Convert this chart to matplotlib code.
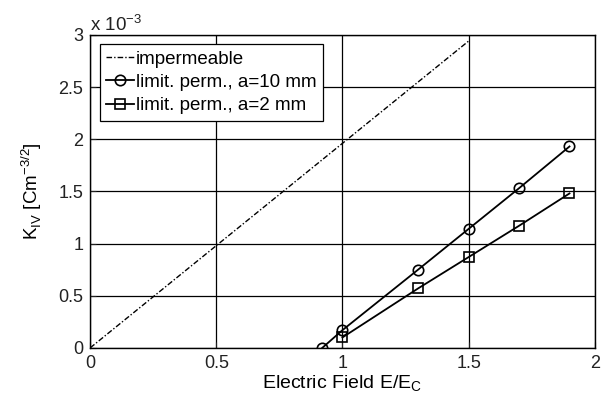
import matplotlib.pyplot as plt
import numpy as np

plt.rcParams["font.family"] = ["Liberation Sans", "DejaVu Sans"]
plt.rcParams["mathtext.fontset"] = "custom"
plt.rcParams["mathtext.rm"] = "Liberation Sans"

# K values in units of 1e-3 C m^-3/2
imp_x = [0.0, 1.5]
imp_k = [0.0, 2.94]

a10_x = [0.92, 1.0, 1.3, 1.5, 1.7, 1.9]
a10_k = [0.0, 0.17, 0.75, 1.14, 1.53, 1.93]

a2_x = [1.0, 1.3, 1.5, 1.7, 1.9]
a2_k = [0.10, 0.57, 0.87, 1.17, 1.48]

fig = plt.figure(figsize=(6.05, 4.05), dpi=100)
ax = fig.add_axes([0.149, 0.141, 0.834, 0.773])

ax.plot(imp_x, imp_k, color="black", linestyle=(0, (4, 1.5, 1, 1.5)), linewidth=1.0,
        label="impermeable")
ax.plot(a10_x, a10_k, color="black", marker="o", markersize=7.5, markerfacecolor="none",
        markeredgewidth=1.2, linewidth=1.3, label="limit. perm., a=10 mm")
ax.plot(a2_x, a2_k, color="black", marker="s", markersize=7, markerfacecolor="none",
        markeredgewidth=1.2, linewidth=1.3, label="limit. perm., a=2 mm")

ax.set_xlim(0, 2)
ax.set_ylim(0, 3)
ax.set_xticks([0, 0.5, 1, 1.5, 2])
ax.set_xticklabels(["0", "0.5", "1", "1.5", "2"])
ax.set_yticks([0, 0.5, 1, 1.5, 2, 2.5, 3])
ax.set_yticklabels(["0", "0.5", "1", "1.5", "2", "2.5", "3"])
ax.grid(True, color="black", linewidth=0.9, linestyle="-")
ax.tick_params(direction="in", labelsize=13, length=4, pad=5, colors="#222222")
for s in ax.spines.values():
    s.set_linewidth(1.0)

ax.text(0.0, 1.0, "x 10$^{-3}$", transform=ax.transAxes, fontsize=13.5,
        ha="left", va="bottom", color="#222222")

ax.set_xlabel("Electric Field E/E$_\\mathregular{C}$", fontsize=14, labelpad=1)
ax.set_ylabel("K$_\\mathregular{IV}$ [Cm$^{-3/2}$]", fontsize=13.5, labelpad=10)

leg = ax.legend(loc="upper left", fontsize=13.5, frameon=True, fancybox=False,
                edgecolor="black", handlelength=1.5, handletextpad=0.1,
                borderpad=0.35, labelspacing=0.32, borderaxespad=0.5)
leg.get_frame().set_linewidth(0.9)
leg.get_frame().set_alpha(1)

fig.savefig("out.png", dpi=100)
